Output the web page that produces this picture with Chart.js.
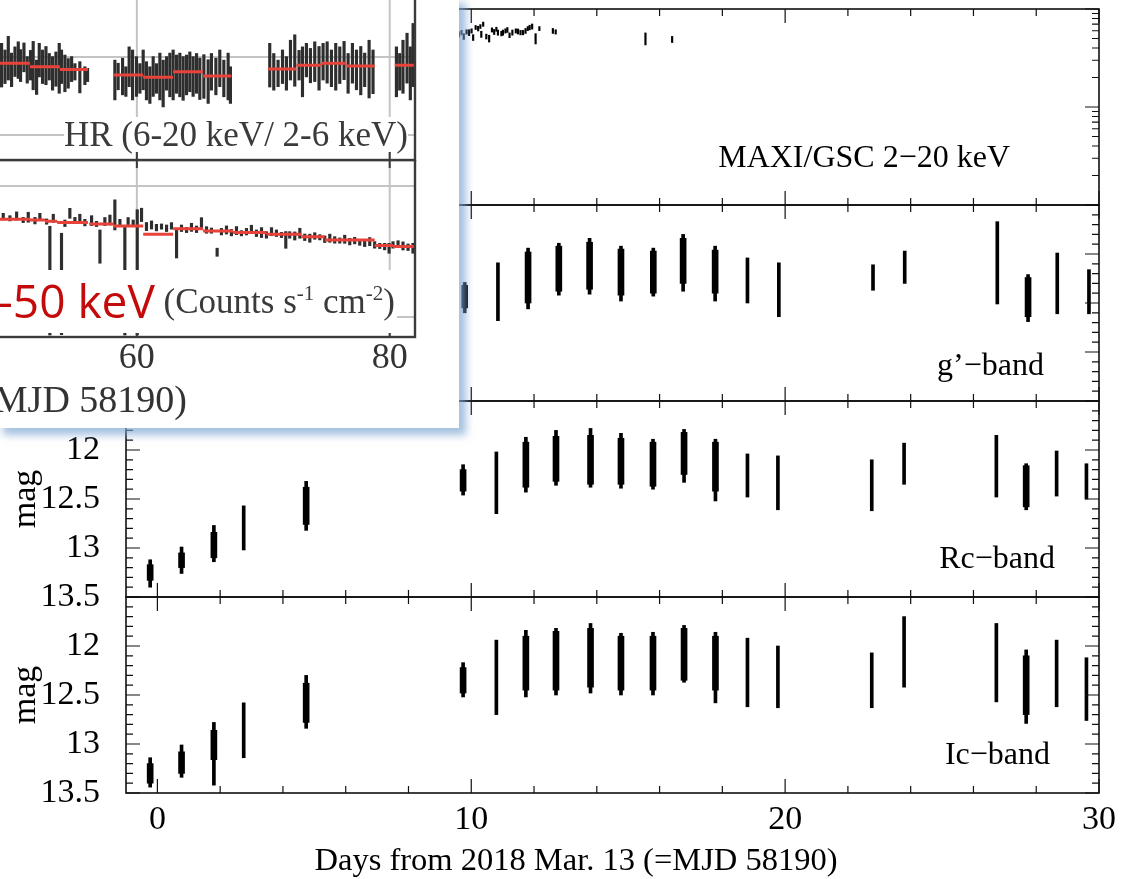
<!DOCTYPE html>
<html lang="en">
<head>
<meta charset="UTF-8">
<meta name="viewport" content="width=device-width, initial-scale=1.0">
<title>MAXI and optical light curves</title>
<script src="https://cdn.jsdelivr.net/npm/chart.js@4.4.1/dist/chart.umd.min.js"></script>
<style>
  html, body { margin: 0; padding: 0; background: #fff; }
  .fig { position: relative; width: 1124px; height: 879px; overflow: hidden; font-family: 'Liberation Serif', 'Times New Roman', serif; }
  .fig canvas { position: absolute; }
  .lbl { position: absolute; white-space: nowrap; line-height: 1; font-size: 32px; color: #000; z-index: 2; }
  .inset { position: absolute; left: 0; top: 0; width: 459px; height: 428px; background: #fff; overflow: hidden; z-index: 5;
           box-shadow: 5px 5px 8px 2px rgba(125, 165, 210, 0.7); }
  .inset .lbl { color: #3a3a3a; font-size: 35px; }
  .boxed { background: #fff; }
  .red { font-family: 'Open Sans', 'DejaVu Sans', sans-serif; font-size: 46px; color: #c40a0a; line-height: 0; position: relative; top: 5px; }
  sup { font-size: 60%; vertical-align: 0.6em; line-height: 0; }
</style>
</head>
<body>
<div class="fig">
  <canvas id="pMaxi" width="1124" height="296" style="left:0; top:-41px;"></canvas>
  <canvas id="pG" width="1124" height="296" style="left:0; top:155px;"></canvas>
  <canvas id="pRc" width="1124" height="296" style="left:0; top:351px;"></canvas>
  <canvas id="pIc" width="1124" height="296" style="left:0; top:547px;"></canvas>

  <div class="lbl" style="right:114px; top:140px;">MAXI/GSC 2−20 keV</div>
  <div class="lbl" style="right:80px; top:348px;">g’−band</div>
  <div class="lbl" style="right:69px; top:541px;">Rc−band</div>
  <div class="lbl" style="right:74px; top:737px;">Ic−band</div>
  <div class="lbl" style="left:0; width:1152px; text-align:center; top:843px; font-size:32.5px;">Days from 2018 Mar. 13 (=MJD 58190)</div>

  <div class="inset">
    <canvas id="iHr" width="535" height="194" style="left:-116px; top:-30px;"></canvas>
    <canvas id="iFlux" width="535" height="227" style="left:-116px; top:160px;"></canvas>
    <div class="lbl boxed" style="right:51px; top:117px;">HR (6-20 keV/ 2-6 keV)</div>
    <div class="lbl boxed" style="right:62px; top:270px; height:63px; line-height:63px; padding-right:2px;"><span class="red">15-50 keV</span> (Counts s<sup>-1</sup> cm<sup>-2</sup>)</div>
    <div class="lbl" style="right:272px; top:380px; font-size:38px; color:#333;">Days from 2018 Mar. 13 (=MJD 58190)</div>
  </div>
</div>

<script>
// ---- main figure: nightly optical clusters (days from MJD 58190, magnitudes) ----
const nightDay = [-0.23, 0.77, 1.80, 2.75, 4.74, 9.74, 10.80, 11.74, 12.70, 13.80, 14.77, 15.79, 16.78, 17.78, 18.80, 19.77, 22.76, 23.79, 26.73, 27.68, 28.65, 29.60];

const rcBright = [13.12, 12.99, 12.77, 12.57, 12.32, 12.15, 12.02, 11.87, 11.80, 11.78, 11.83, 11.89, 11.79, 11.89, 12.04, 12.06, 12.10, 11.93, 11.85, 12.14, 12.01, 12.14];
const rcFaint = [13.40, 13.26, 13.14, 13.02, 12.82, 12.46, 12.65, 12.43, 12.36, 12.38, 12.39, 12.40, 12.33, 12.52, 12.48, 12.61, 12.62, 12.35, 12.48, 12.61, 12.47, 12.50];
const rcCoreBright = [13.17, 13.05, 12.84, null, 12.38, 12.20, null, 11.92, 11.86, 11.85, 11.88, 11.92, 11.82, 11.92, null, null, null, null, null, 12.16, null, null];
const rcCoreFaint = [13.33, 13.20, 13.10, null, 12.76, 12.42, null, 12.38, 12.32, 12.35, 12.35, 12.37, 12.25, 12.42, null, null, null, null, null, 12.58, null, null];

const icBright = [13.14, 13.01, 12.78, 12.58, 12.30, 12.17, 11.94, 11.84, 11.82, 11.77, 11.87, 11.86, 11.79, 11.86, 11.92, 12.00, 12.07, 11.70, 11.77, 12.04, 11.94, 12.12];
const icFaint = [13.44, 13.34, 13.42, 13.14, 12.84, 12.52, 12.70, 12.52, 12.50, 12.48, 12.50, 12.50, 12.37, 12.58, 12.62, 12.63, 12.63, 12.42, 12.57, 12.79, 12.62, 12.76];
const icCoreBright = [13.20, 13.08, 12.86, null, 12.38, 12.22, null, 11.90, 11.85, 11.82, 11.90, 11.90, 11.82, 11.90, null, null, null, null, null, 12.10, null, null];
const icCoreFaint = [13.40, 13.30, 13.16, null, 12.78, 12.48, null, 12.45, 12.45, 12.42, 12.45, 12.45, 12.35, 12.45, null, null, null, null, null, 12.70, null, null];

const gDay = [9.79, 10.85, 11.81, 12.79, 13.77, 14.77, 15.80, 16.75, 17.77, 18.80, 19.80, 22.80, 23.81, 26.76, 27.74, 28.67, 29.68];
const gBright = [12.79, 12.59, 12.44, 12.39, 12.34, 12.42, 12.44, 12.30, 12.42, 12.54, 12.59, 12.61, 12.47, 12.17, 12.71, 12.49, 12.66];
const gFaint = [13.10, 13.18, 13.06, 12.92, 12.91, 12.98, 12.93, 12.88, 12.98, 13.00, 13.14, 12.87, 12.80, 13.01, 13.19, 13.11, 13.11];
const gCoreBright = [12.82, null, 12.48, 12.42, 12.38, 12.45, 12.47, 12.34, 12.46, null, null, null, null, null, 12.74, null, null];
const gCoreFaint = [13.05, null, 13.00, 12.88, 12.86, 12.92, 12.90, 12.80, 12.90, null, null, null, null, null, 13.14, null, null];

// MAXI/GSC 2-20 keV points visible right of the inset
const maxiDay = [9.61, 9.69, 9.76, 9.85, 9.93, 10.01, 10.06, 10.14, 10.22, 10.29, 10.32, 10.38, 10.48, 10.57, 10.66, 10.73, 10.80, 10.85, 10.96, 11.01, 11.09, 11.15, 11.22, 11.31, 11.42, 11.49, 11.57, 11.65, 11.73, 11.80, 11.86, 11.94, 12.05, 12.17, 12.60, 12.69, 15.55, 16.40];
const maxiFlux = [5.53, 5.75, 5.24, 5.84, 5.75, 5.98, 5.12, 6.48, 6.32, 6.63, 5.53, 7.00, 5.24, 5.00, 6.12, 5.84, 6.22, 5.75, 5.62, 5.75, 5.98, 6.12, 5.40, 5.75, 5.98, 5.90, 5.75, 5.75, 5.98, 6.32, 6.48, 6.63, 5.00, 6.32, 5.98, 5.84, 5.00, 4.90];
const maxiErr = [0.35, 0.30, 0.35, 0.30, 0.40, 0.30, 0.35, 0.30, 0.35, 0.30, 0.40, 0.35, 0.30, 0.40, 0.30, 0.35, 0.30, 0.35, 0.30, 0.35, 0.30, 0.35, 0.30, 0.35, 0.30, 0.35, 0.30, 0.30, 0.35, 0.30, 0.35, 0.40, 0.60, 0.30, 0.35, 0.30, 0.70, 0.35];

const dayLabels = [0, 10, 20, 30];
const magLabels = [12, 12.5, 13, 13.5];

// ---- inset: hardness ratio and 15-50 keV rate ----
const hrDay = [49.30, 49.57, 49.83, 50.09, 50.36, 50.62, 50.80, 51.07, 51.33, 51.59, 51.80, 52.07, 52.28, 52.54, 52.81, 53.07, 53.33, 53.60, 53.86, 54.04, 54.31, 54.57, 54.84, 55.10, 55.49, 55.89, 56.10,
  58.26, 58.52, 58.87, 59.13, 59.39, 59.66, 59.97, 60.24, 60.50, 60.76, 61.03, 61.29, 61.55, 61.82, 62.08, 62.35, 62.61, 62.87, 63.14, 63.40, 63.66, 63.93, 64.19, 64.45, 64.72, 64.98, 65.30, 65.64, 65.90, 66.25, 66.56, 66.88, 67.22, 67.40,
  70.51, 70.83, 71.17, 71.52, 71.83, 72.15, 72.49, 72.83, 73.10, 73.41, 73.73, 74.07, 74.41, 74.73, 75.05, 75.39, 75.73, 76.05, 76.39, 76.71, 77.05, 77.37, 77.71, 78.02, 78.37, 78.68,
  80.53, 80.79, 81.05, 81.37, 81.63, 81.85];
const hrVal = [0.679, 0.675, 0.697, 0.667, 0.688, 0.692, 0.678, 0.699, 0.667, 0.679, 0.678, 0.648, 0.692, 0.675, 0.678, 0.675, 0.658, 0.669, 0.671, 0.675, 0.658, 0.658, 0.669, 0.662, 0.648, 0.652, 0.654,
  0.641, 0.650, 0.650, 0.637, 0.675, 0.654, 0.650, 0.645, 0.667, 0.639, 0.628, 0.650, 0.645, 0.650, 0.632, 0.658, 0.654, 0.654, 0.656, 0.654, 0.645, 0.654, 0.662, 0.650, 0.658, 0.644, 0.650, 0.637, 0.662, 0.650, 0.671, 0.645, 0.650, 0.628,
  0.679, 0.662, 0.658, 0.675, 0.658, 0.692, 0.691, 0.679, 0.662, 0.692, 0.678, 0.688, 0.671, 0.688, 0.686, 0.671, 0.675, 0.679, 0.691, 0.658, 0.684, 0.667, 0.665, 0.667, 0.669, 0.662,
  0.662, 0.662, 0.675, 0.697, 0.658, 0.705];
const hrErr = [0.056, 0.043, 0.056, 0.043, 0.038, 0.047, 0.041, 0.037, 0.034, 0.038, 0.062, 0.044, 0.043, 0.043, 0.049, 0.034, 0.043, 0.044, 0.064, 0.043, 0.047, 0.038, 0.032, 0.021, 0.040, 0.023, 0.017,
  0.051, 0.034, 0.047, 0.038, 0.051, 0.064, 0.051, 0.038, 0.051, 0.049, 0.047, 0.051, 0.038, 0.060, 0.060, 0.043, 0.056, 0.064, 0.049, 0.056, 0.056, 0.051, 0.051, 0.051, 0.051, 0.053, 0.056, 0.056, 0.047, 0.047, 0.047, 0.047, 0.060, 0.047,
  0.056, 0.047, 0.034, 0.043, 0.043, 0.051, 0.066, 0.038, 0.064, 0.043, 0.044, 0.051, 0.056, 0.047, 0.053, 0.047, 0.060, 0.047, 0.049, 0.051, 0.051, 0.051, 0.062, 0.043, 0.074, 0.056,
  0.064, 0.047, 0.068, 0.064, 0.068, 0.081];
const hrBinStart = [49.17, 51.54, 53.91, 58.13, 60.50, 62.87, 65.24, 70.38, 72.62, 74.60, 76.57, 80.40];
const hrBinEnd = [51.54, 53.91, 56.13, 60.50, 62.87, 65.24, 67.48, 72.62, 74.60, 76.57, 78.81, 81.98];
const hrBinVal = [0.684, 0.675, 0.668, 0.654, 0.648, 0.662, 0.651, 0.669, 0.679, 0.684, 0.677, 0.679];

const fxDay = [49.43, 49.96, 50.49, 51.01, 51.41, 51.94, 52.33, 52.86, 53.12, 53.39, 54.04, 54.31, 54.70, 55.10, 55.49, 55.89, 56.42, 56.81, 57.08, 57.47,
  57.87, 58.26, 58.66, 59.05, 59.31, 59.71, 60.03, 60.37, 60.76, 61.16, 61.55, 61.95, 62.35, 62.74, 63.14, 63.53, 63.93, 64.32, 64.72, 65.11,
  65.51, 65.90, 66.35, 66.69, 67.09, 67.48, 67.88, 68.27, 68.67, 69.06, 69.46, 69.86, 70.25, 70.65, 71.04, 71.44, 71.78, 72.09, 72.49, 72.89,
  73.28, 73.68, 74.07, 74.47, 74.86, 75.26, 75.65, 76.05, 76.44, 76.84, 77.23, 77.63, 78.02, 78.42, 78.81, 79.21, 79.60, 79.95, 80.26, 80.66,
  81.05, 81.45, 81.84];
const fxVal = [1.766, 1.753, 1.771, 1.740, 1.761, 1.735, 1.766, 1.728, 1.277, 1.753, 1.252, 1.715, 1.791, 1.740, 1.753, 1.720, 1.735, 1.710, 1.537, 1.728,
  1.740, 1.779, 1.720, 1.277, 1.728, 1.715, 1.341, 1.779, 1.690, 1.702, 1.682, 1.690, 1.677, 1.695, 1.557, 1.677, 1.664, 1.684, 1.669, 1.720,
  1.664, 1.659, 1.494, 1.651, 1.664, 1.644, 1.659, 1.639, 1.651, 1.669, 1.639, 1.644, 1.626, 1.651, 1.639, 1.626, 1.588, 1.626, 1.618, 1.639,
  1.608, 1.601, 1.618, 1.608, 1.593, 1.601, 1.588, 1.583, 1.593, 1.575, 1.583, 1.567, 1.562, 1.575, 1.550, 1.542, 1.537, 1.524, 1.550, 1.562,
  1.542, 1.532, 1.524];
const fxErr = [0.025, 0.020, 0.031, 0.020, 0.038, 0.025, 0.025, 0.020, 0.415, 0.031, 0.387, 0.025, 0.038, 0.020, 0.031, 0.025, 0.038, 0.020, 0.127, 0.031,
  0.038, 0.115, 0.025, 0.415, 0.031, 0.025, 0.478, 0.051, 0.031, 0.031, 0.025, 0.020, 0.025, 0.025, 0.107, 0.025, 0.020, 0.031, 0.025, 0.038,
  0.025, 0.020, 0.031, 0.025, 0.031, 0.025, 0.031, 0.020, 0.025, 0.031, 0.025, 0.038, 0.025, 0.031, 0.025, 0.020, 0.064, 0.025, 0.031, 0.038,
  0.025, 0.031, 0.025, 0.020, 0.025, 0.031, 0.025, 0.020, 0.031, 0.025, 0.025, 0.020, 0.025, 0.031, 0.025, 0.020, 0.025, 0.038, 0.025, 0.020,
  0.031, 0.025, 0.038];
const fxBinStart = [49.17, 51.54, 52.73, 53.70, 56.23, 58.13, 60.50, 62.87, 65.24, 67.62, 70.25, 73.02, 74.86, 78.81, 80.26];
const fxBinEnd = [51.54, 52.73, 53.70, 56.13, 58.13, 60.50, 62.87, 65.24, 67.62, 70.25, 73.02, 74.86, 78.81, 80.26, 81.98];
const fxBinVal = [1.746, 1.740, 1.730, 1.720, 1.710, 1.695, 1.631, 1.674, 1.656, 1.644, 1.631, 1.613, 1.588, 1.545, 1.537];

const insetDayLabels = [60, 80];

// ---- helpers ----
Chart.defaults.font.family = "'Liberation Serif', 'Times New Roman', serif";
Chart.defaults.color = '#000';
Chart.defaults.animation = false;
Chart.defaults.plugins.legend.display = false;
Chart.defaults.plugins.tooltip.enabled = false;

const ticksOf = vals => scale => { scale.ticks = vals.map(v => ({ value: v })); };
const fixW = w => s => { s.width = w; };
const fixH = h => s => { s.height = h; };
const noGrid = { display: false, drawTicks: false };

function rangeBars(days, lo, hi, thick, color) {
  const pts = [];
  days.forEach((d, i) => {
    if (lo[i] != null && hi[i] != null) pts.push({ x: d, y: [lo[i], hi[i]] });
  });
  return { type: 'bar', data: pts, backgroundColor: color, borderWidth: 0, barThickness: thick, grouped: false, order: 2 };
}
function errBars(days, val, err, thick, color) {
  return rangeBars(days, val.map((v, i) => v - err[i]), val.map((v, i) => v + err[i]), thick, color);
}
function stepLine(start, end, val, color, width) {
  const pts = [];
  start.forEach((s, i) => {
    pts.push({ x: s, y: val[i] }, { x: end[i], y: val[i] }, { x: end[i], y: null });
  });
  return { type: 'line', data: pts, borderColor: color, borderWidth: width, pointRadius: 0, spanGaps: false, order: 0 };
}

function stepValues(min, max, step) {
  const out = [];
  for (let i = Math.ceil(min / step - 1e-6); i * step <= max + 1e-6; i++) out.push(+(i * step).toFixed(6));
  return out;
}
const isMultiple = (v, m) => Math.abs(v / m - Math.round(v / m)) < 1e-6;

// frame, inward ticks and light grid, all placed through the chart's scales
const frameTicks = {
  id: 'frame',
  beforeDatasetsDraw(chart, args, o) {
    if (!o.gridColor) return;
    const { ctx, chartArea: a, scales: { x, y } } = chart;
    ctx.save();
    ctx.strokeStyle = o.gridColor;
    ctx.lineWidth = o.gridWidth;
    ctx.beginPath();
    (o.gridX || []).forEach(v => { const p = x.getPixelForValue(v); ctx.moveTo(p, a.top); ctx.lineTo(p, a.bottom); });
    (o.gridY || []).forEach(v => { const p = y.getPixelForValue(v); ctx.moveTo(a.left, p); ctx.lineTo(a.right, p); });
    ctx.stroke();
    ctx.restore();
  },
  afterDatasetsDraw(chart, args, o) {
    const { ctx, chartArea: a, scales: { x, y } } = chart;
    ctx.save();
    ctx.strokeStyle = o.color;
    ctx.lineWidth = o.tickWidth;
    ctx.beginPath();
    stepValues(x.min, x.max, o.xStep).forEach(v => {
      const p = x.getPixelForValue(v);
      const len = isMultiple(v, o.xMajor) ? o.majorLen : o.minorLen;
      ctx.moveTo(p, a.top); ctx.lineTo(p, a.top + len);
      ctx.moveTo(p, a.bottom); ctx.lineTo(p, a.bottom - len);
    });
    let yt = [];
    if (o.log) {
      for (let k = Math.floor(Math.log10(y.min)); k <= Math.ceil(Math.log10(y.max)); k++) {
        for (let m = 1; m <= 9; m++) {
          const v = m * Math.pow(10, k);
          if (v >= y.min * 0.999 && v <= y.max * 1.001) yt.push({ v, major: m === 1 });
        }
      }
    } else if (o.yStep) {
      yt = stepValues(y.min, y.max, o.yStep).map(v => ({ v, major: isMultiple(v, o.yMajor) }));
    }
    yt.forEach(t => {
      const p = y.getPixelForValue(t.v);
      const len = t.major ? o.majorLen : o.minorLen;
      ctx.moveTo(a.left, p); ctx.lineTo(a.left + len, p);
      ctx.moveTo(a.right, p); ctx.lineTo(a.right - len, p);
    });
    ctx.stroke();
    ctx.lineWidth = o.frameWidth;
    ctx.strokeRect(a.left, a.top, a.right - a.left, a.bottom - a.top);
    ctx.restore();
  }
};

function panel(id, datasets, xScale, yScale, padding, frame) {
  return new Chart(document.getElementById(id), {
    type: 'bar',
    data: { datasets },
    options: {
      responsive: false,
      layout: { padding },
      scales: { x: xScale, y: yScale },
      plugins: { frame }
    },
    plugins: [frameTicks]
  });
}

const mainFrame = { xStep: 2, xMajor: 10, yStep: 0.1, yMajor: 0.5, color: '#111', tickWidth: 1.2, frameWidth: 1.6, minorLen: 7, majorLen: 14 };

function mainX(show) {
  const s = {
    type: 'linear', min: -1, max: 30, offset: false, display: show,
    grid: noGrid, border: { display: false },
    afterBuildTicks: ticksOf(dayLabels),
    ticks: { padding: 7, font: { size: 34 }, color: '#000', maxRotation: 0, autoSkip: false, callback: v => String(v) }
  };
  if (show) s.afterFit = fixH(50);
  return s;
}
function magY(min, max, labelled) {
  const s = {
    type: 'linear', reverse: true, min, max,
    afterFit: fixW(126), grid: noGrid, border: { display: false },
    ticks: { display: labelled, padding: 26, font: { size: 34 }, color: '#000', autoSkip: false, callback: v => String(v) }
  };
  if (labelled) {
    s.afterBuildTicks = ticksOf(magLabels);
    s.title = { display: true, text: 'mag', font: { size: 34 }, color: '#000', padding: { top: 6, bottom: 0 } };
  }
  return s;
}
// generous top/bottom padding so tick-label overhang never moves the plot area
const pad = { left: 0, right: 25, top: 50, bottom: 50 };

// MAXI/GSC panel (log scale)
panel('pMaxi',
  [errBars(maxiDay, maxiFlux, maxiErr, 1.5, '#000')],
  mainX(false),
  { type: 'logarithmic', min: 0.1, max: 10, afterFit: fixW(126), grid: noGrid, border: { display: false }, ticks: { display: false } },
  pad, Object.assign({}, mainFrame, { log: true }));

// g'-band
panel('pG',
  [rangeBars(gDay, gBright, gFaint, 3, '#000'), rangeBars(gDay, gCoreBright, gCoreFaint, 6, '#000')],
  mainX(false), magY(12, 14, false), pad, mainFrame);

// Rc-band
panel('pRc',
  [rangeBars(nightDay, rcBright, rcFaint, 3, '#000'), rangeBars(nightDay, rcCoreBright, rcCoreFaint, 6, '#000')],
  mainX(false), magY(11.5, 13.5, true), pad, mainFrame);

// Ic-band with the day axis
panel('pIc',
  [rangeBars(nightDay, icBright, icFaint, 3, '#000'), rangeBars(nightDay, icCoreBright, icCoreFaint, 6, '#000')],
  mainX(true), magY(11.5, 13.5, true), { left: 0, right: 25, top: 50, bottom: 0 }, mainFrame);

// inset panels
const insetFrame = { xStep: 20, xMajor: 20, color: '#3a3a3a', tickWidth: 2, frameWidth: 2.4, minorLen: 8, majorLen: 8,
  gridX: insetDayLabels, gridColor: '#c4c4c4', gridWidth: 2 };

panel('iHr',
  [errBars(hrDay, hrVal, hrErr, 2.5, '#2e2e2e'), stepLine(hrBinStart, hrBinEnd, hrBinVal, '#e8433a', 3)],
  { type: 'linear', min: 40, max: 82, offset: false, display: false },
  { type: 'linear', min: 0.436, max: 0.923, display: false },
  { left: 0, right: 4, top: 0, bottom: 4 },
  Object.assign({}, insetFrame, { gridY: [0.5, 0.7] }));

panel('iFlux',
  [errBars(fxDay, fxVal, fxErr, 2.5, '#2e2e2e'), stepLine(fxBinStart, fxBinEnd, fxBinVal, '#e8433a', 3)],
  { type: 'linear', min: 40, max: 82, offset: false, display: true,
    afterBuildTicks: ticksOf(insetDayLabels), afterFit: fixH(50),
    grid: noGrid, border: { display: false },
    ticks: { padding: 0, font: { size: 36 }, color: '#333', maxRotation: 0, autoSkip: false, callback: v => String(v) } },
  { type: 'linear', min: 0.847, max: 2.198, display: false },
  { left: 0, right: 4, top: 0, bottom: 0 },
  Object.assign({}, insetFrame, { gridY: [1, 2] }));
</script>
</body>
</html>
